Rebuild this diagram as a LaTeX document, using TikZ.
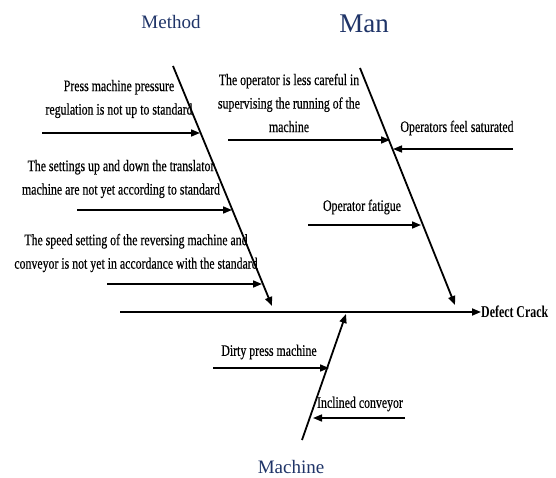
\documentclass[tikz,border=0pt]{standalone}
\usepackage{fontspec}
\setmainfont{Liberation Serif}
\newfontfamily\condfont[FakeStretch=0.74,FakeBold=0.4]{Liberation Serif}
\newfontfamily\effectfont[FakeStretch=0.72]{Liberation Serif}
\usetikzlibrary{arrows.meta}
\definecolor{headblue}{HTML}{1F3468}
\begin{document}
\begin{tikzpicture}[x=1pt,y=-1pt,
  bone/.style={line width=1.8pt,-{Triangle[length=9pt,width=7pt]}},
  cause/.style={line width=1.6pt,-{Triangle[length=9pt,width=7pt]}},
  ctext/.style={font=\condfont\fontsize{16}{23.5}\selectfont,align=center,inner sep=0pt},
  head/.style={font=\fontsize{19}{22}\selectfont,text=headblue,inner sep=0pt}]
\useasboundingbox (0,0) rectangle (556,478);

% category headings
\node[head] (method) at (171,22) {Method};
\node[head,font=\fontsize{27}{30}\selectfont] (man) at (364,24) {Man};
\node[head] (machine) at (291,467) {Machine};

% effect
\node[font=\effectfont\bfseries\fontsize{16.5}{19}\selectfont,anchor=west,inner sep=0pt] (effect) at (481,312) {Defect Crack};

% spine and main bones
\coordinate (spineL) at (120,312);
\draw[bone] (spineL) -- (effect.west);
\coordinate (methodT) at (173,66);
\coordinate (methodB) at (272,306);
\draw[bone] (methodT) -- (methodB);
\coordinate (manT) at (360,68);
\coordinate (manB) at (455,305);
\draw[bone] (manT) -- (manB);
\coordinate (machB) at (302,440);
\coordinate (machT) at (346,314);
\draw[bone] (machB) -- (machT);

% Method causes
\node[ctext] (m1) at (119,99) {Press machine pressure\\regulation is not up to standard};
\coordinate (m1s) at (42,133);
\coordinate (m1e) at (200,133);
\draw[cause] (m1s) -- (m1e);

\node[ctext] (m2) at (121,179) {The settings up and down the translator\\machine are not yet according to standard};
\coordinate (m2s) at (77,210);
\coordinate (m2e) at (232,210);
\draw[cause] (m2s) -- (m2e);

\node[ctext] (m3) at (136,253) {The speed setting of the reversing machine and\\conveyor is not yet in accordance with the standard};
\coordinate (m3s) at (107,284);
\coordinate (m3e) at (262,284);
\draw[cause] (m3s) -- (m3e);

% Man causes
\node[ctext] (p1) at (289,103) {The operator is less careful in\\supervising the running of the\\machine};
\coordinate (p1s) at (228,140);
\coordinate (p1e) at (390,140);
\draw[cause] (p1s) -- (p1e);

\node[ctext] (p2) at (457,128) {Operators feel saturated};
\coordinate (p2s) at (513,149);
\coordinate (p2e) at (393,149);
\draw[cause] (p2s) -- (p2e);

\node[ctext] (p3) at (362,207) {Operator fatigue};
\coordinate (p3s) at (308,225);
\coordinate (p3e) at (421,225);
\draw[cause] (p3s) -- (p3e);

% Machine causes
\node[ctext] (k1) at (269,352) {Dirty press machine};
\coordinate (k1s) at (213,368);
\coordinate (k1e) at (329,368);
\draw[cause] (k1s) -- (k1e);

\node[ctext] (k2) at (360,404) {Inclined conveyor};
\coordinate (k2s) at (405,418);
\coordinate (k2e) at (313,418);
\draw[cause] (k2s) -- (k2e);
\end{tikzpicture}
\end{document}
